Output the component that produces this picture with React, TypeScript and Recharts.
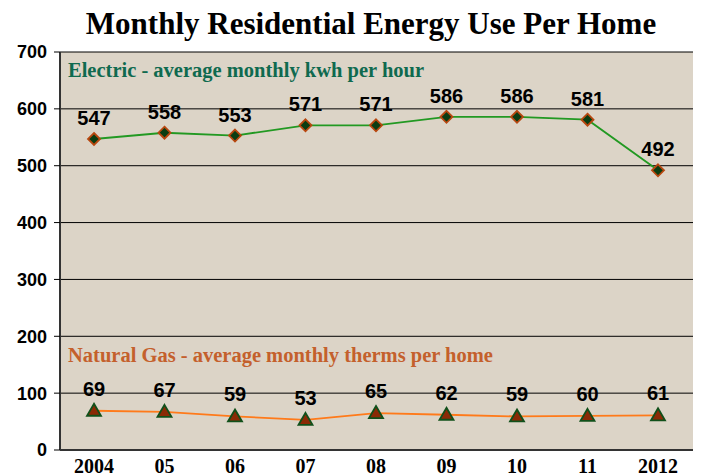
import { LineChart, Line, XAxis, YAxis, CartesianGrid, LabelList, Customized } from 'recharts';

const years = ['2004', '05', '06', '07', '08', '09', '10', '11', '2012'];
const electric = [547, 558, 553, 571, 571, 586, 586, 581, 492];
const gas = [69, 67, 59, 53, 65, 62, 59, 60, 61];
const yTicks = [0, 100, 200, 300, 400, 500, 600, 700];

const data = years.map((y, i) => ({ year: y, electric: electric[i], gas: gas[i] }));

const sans = '"Liberation Sans", Arial, sans-serif';
const serif = '"Liberation Serif", "Times New Roman", serif';

function Diamond(props: any) {
  const { cx, cy } = props;
  if (cx == null || cy == null) return null;
  const r = 6;
  return (
    <polygon
      points={`${cx},${cy - r} ${cx + r},${cy} ${cx},${cy + r} ${cx - r},${cy}`}
      fill="#0b3d12"
      stroke="#b8470f"
      strokeWidth={1.8}
    />
  );
}

function Triangle(props: any) {
  const { cx, cy } = props;
  if (cx == null || cy == null) return null;
  return (
    <polygon
      points={`${cx},${cy - 7} ${cx + 7},${cy + 5} ${cx - 7},${cy + 5}`}
      fill="#8a2a05"
      stroke="#10501a"
      strokeWidth={1.8}
    />
  );
}

function Notes() {
  return (
    <g>
      <text x={371} y={34} textAnchor="middle" fontFamily={serif} fontWeight="bold" fontSize={31} fill="#000">
        Monthly Residential Energy Use Per Home
      </text>
      <text x={68} y={77} fontFamily={serif} fontWeight="bold" fontSize={20.5} fill="#0f6a4f">
        Electric - average monthly kwh per hour
      </text>
      <text x={68} y={362} fontFamily={serif} fontWeight="bold" fontSize={20.5} fill="#c4602c">
        Natural Gas - average monthly therms per home
      </text>
    </g>
  );
}

export default function App() {
  return (
    <div style={{ position: 'absolute', left: 0, top: 0, background: '#fff' }}>
      <LineChart width={701} height={476} data={data} margin={{ top: 52, right: 8, left: 0, bottom: 0 }}>
        <CartesianGrid vertical={false} stroke="#000" strokeWidth={1} fill="#dcd4c7" fillOpacity={1} />
        <XAxis
          dataKey="year"
          height={26}
          padding={{ left: 34, right: 35 }}
          tickLine={false}
          axisLine={{ stroke: '#333', strokeWidth: 2 }}
          tick={{ fill: '#000', fontSize: 20, fontWeight: 'bold', fontFamily: serif }}
          tickMargin={3}
        />
        <YAxis
          width={60}
          domain={[0, 700]}
          ticks={yTicks}
          interval={0}
          tickLine={{ stroke: '#000' }}
          tickSize={6}
          axisLine={{ stroke: '#333', strokeWidth: 2 }}
          tick={{ fill: '#000', fontSize: 18, fontWeight: 'bold', fontFamily: sans }}
          tickMargin={7}
        />
        <YAxis
          yAxisId="right"
          orientation="right"
          width={0}
          tick={false}
          tickLine={false}
          axisLine={{ stroke: '#888', strokeWidth: 1.5 }}
        />
        <Line
          dataKey="electric"
          stroke="#229922"
          strokeWidth={1.8}
          dot={<Diamond />}
          activeDot={false}
          isAnimationActive={false}
        >
          <LabelList dataKey="electric" position="top" offset={14} fill="#000" fontSize={20} fontWeight="bold" fontFamily={sans} />
        </Line>
        <Line
          dataKey="gas"
          stroke="#ff7a1a"
          strokeWidth={1.8}
          dot={<Triangle />}
          activeDot={false}
          isAnimationActive={false}
        >
          <LabelList dataKey="gas" position="top" offset={15} fill="#000" fontSize={20} fontWeight="bold" fontFamily={sans} />
        </Line>
        <Customized component={Notes} />
      </LineChart>
    </div>
  );
}
